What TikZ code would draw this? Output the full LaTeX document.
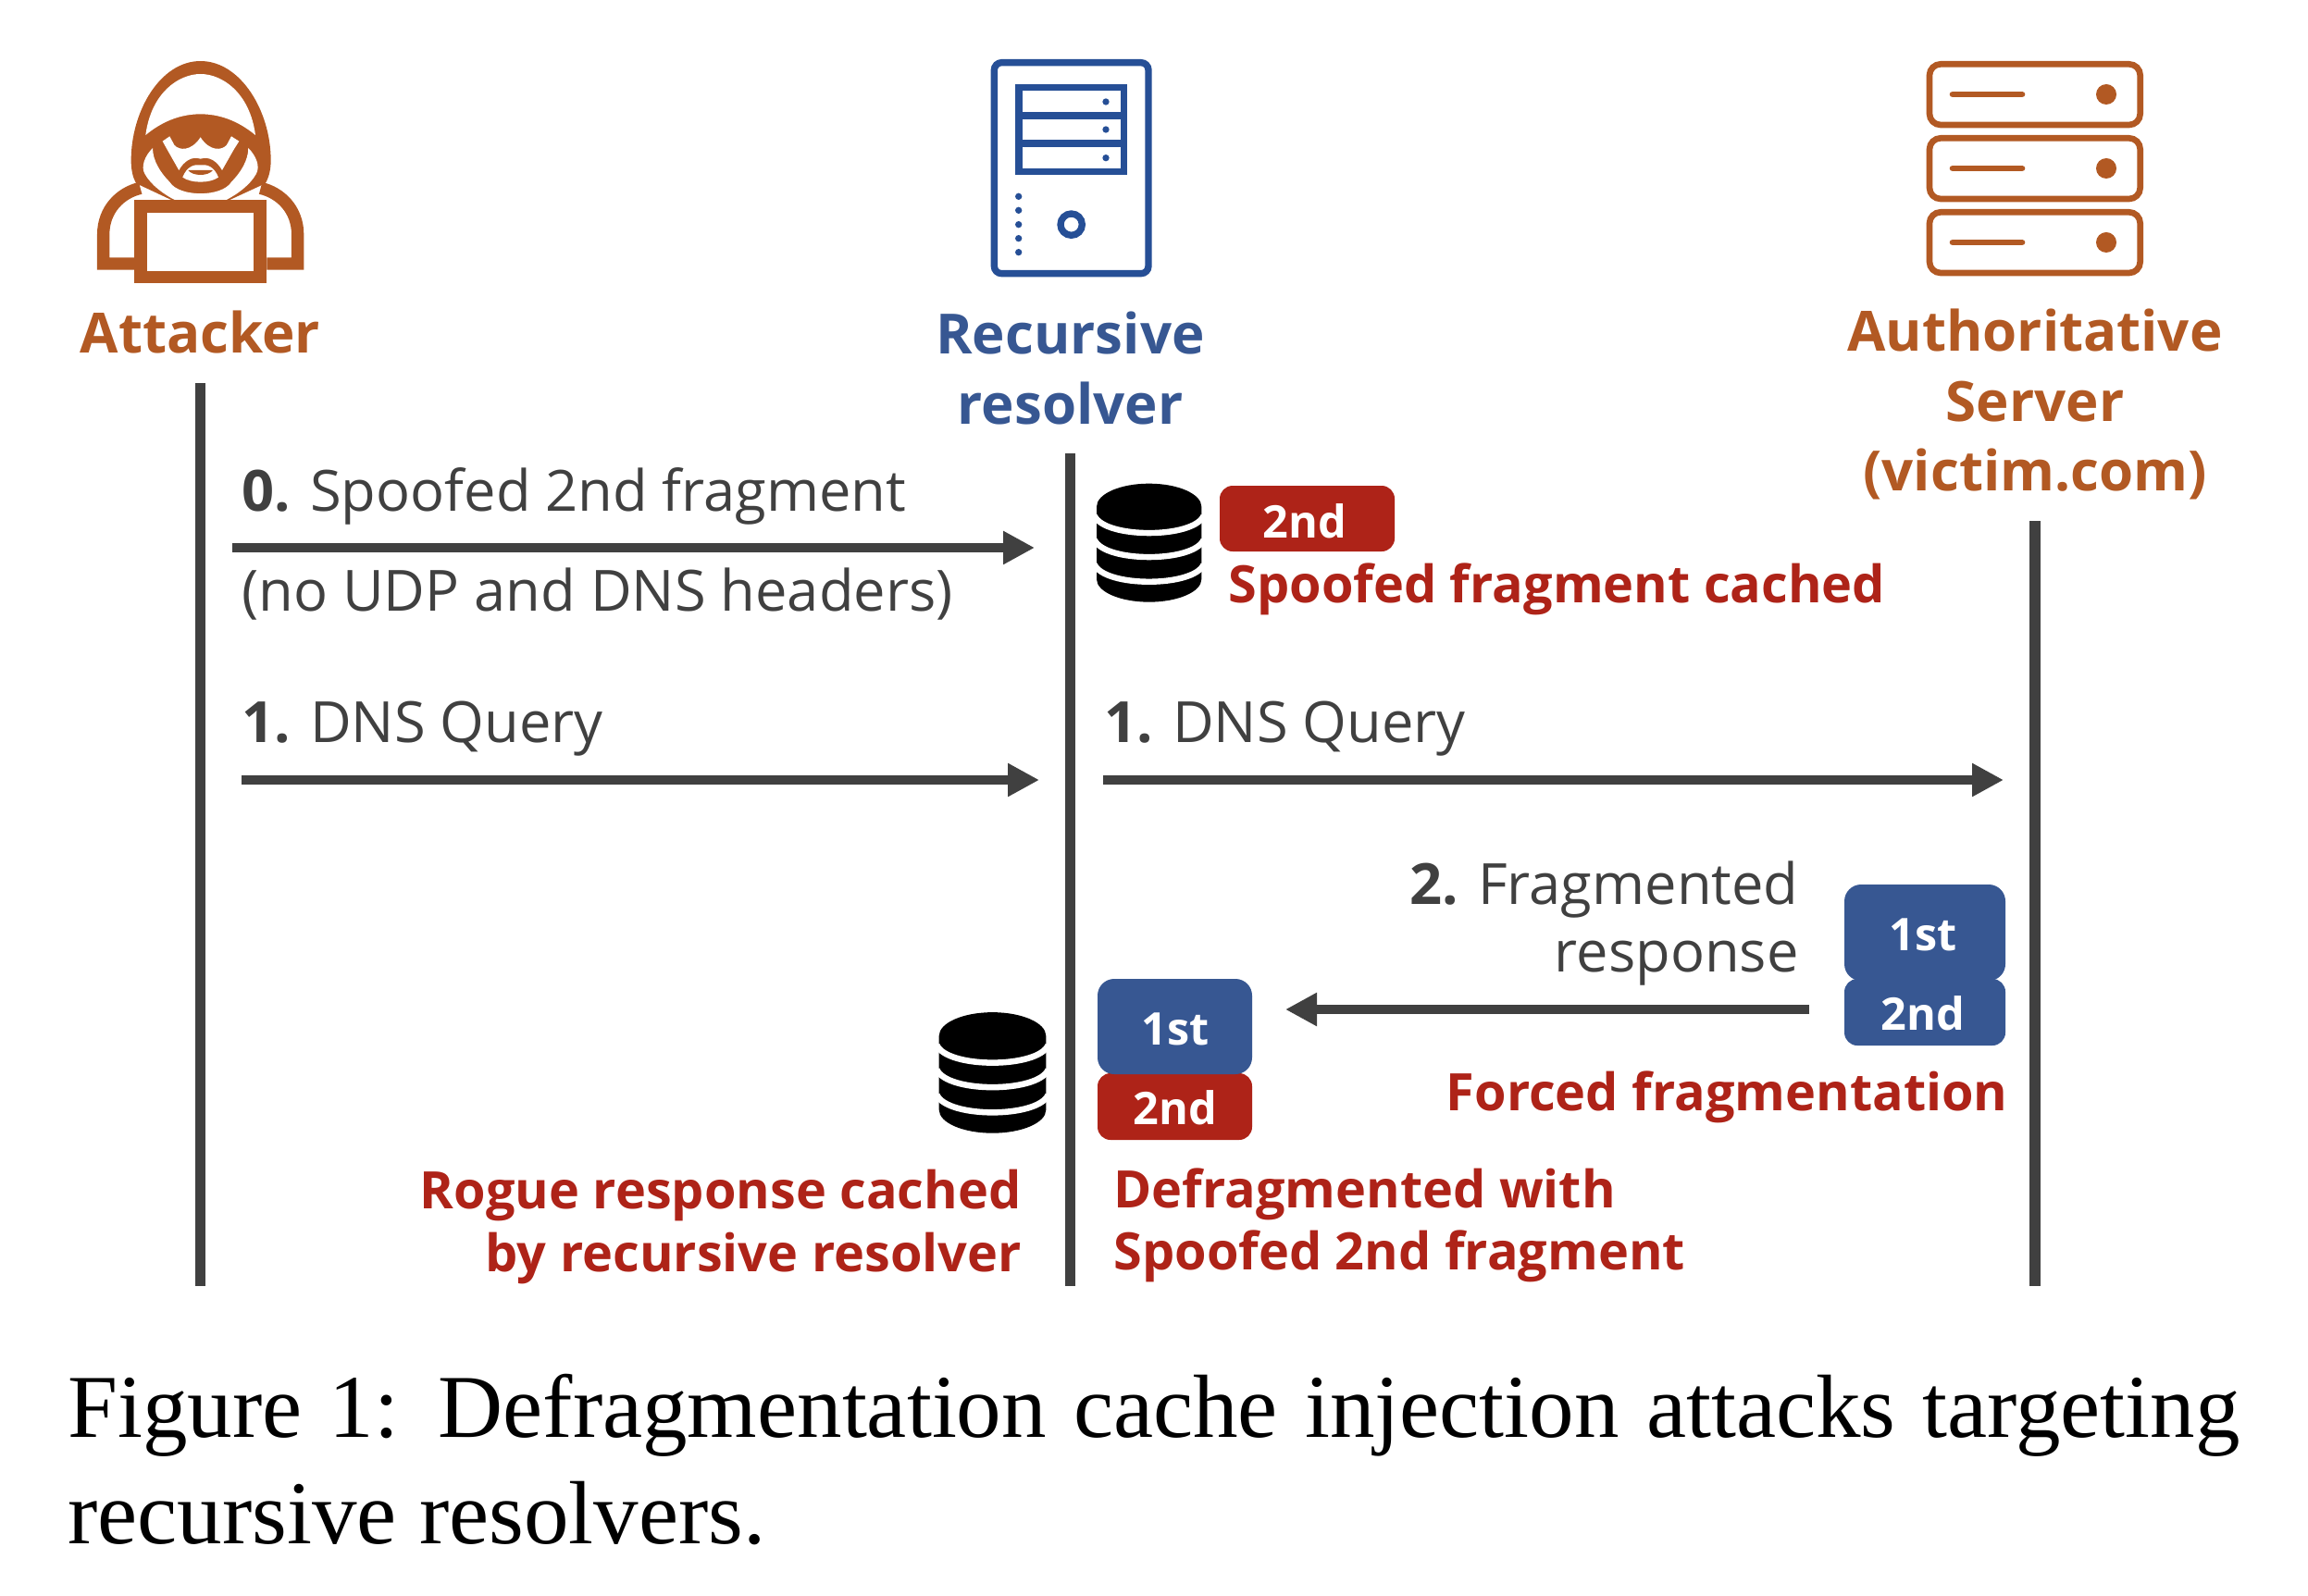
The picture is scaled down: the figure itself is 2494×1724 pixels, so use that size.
\documentclass[tikz,border=0pt]{standalone}
\usepackage{fontspec}
\setmainfont{Open Sans}
\newfontfamily\capfont{Liberation Serif}
\usetikzlibrary{arrows.meta}
\definecolor{cdark}{HTML}{404040}
\definecolor{cblue}{HTML}{375792}
\definecolor{cicon}{HTML}{264F96}
\definecolor{cred}{HTML}{AE2318}
\definecolor{corange}{HTML}{B25923}
\tikzset{
 lifeline/.style={draw=cdark,line width=5.6pt},
 msg/.style={draw=cdark,line width=4.8pt,-{Triangle[length=17pt,width=17pt]},shorten >=0pt},
 actor/.style={font=\fontsize{30}{37.7}\selectfont\bfseries,align=center,anchor=center},
 lab/.style={font=\fontsize{30.7}{36.5}\selectfont,text=cdark,inner sep=0pt},
 redlab/.style={font=\fontsize{27.9}{33.6}\selectfont\bfseries,text=cred,inner sep=0pt},
 frag/.style={font=\fontsize{24.3}{24.3}\selectfont\bfseries,text=white,inner sep=0pt,align=center},
 caption/.style={font=\capfont\fontsize{48.5}{48.5}\selectfont,text=black,inner sep=0pt,anchor=base west},
}
\newcommand{\dbicon}[3]{%
 \begin{scope}[shift={(#1,#2)},x=#3*0.5pt/3,y=-#3*0.5pt/3]
 \fill[black] (105,143) -- (105,378) arc[start angle=180,end angle=0,x radius=170,y radius=74] -- (445,143) arc[start angle=0,end angle=-180,x radius=170,y radius=75] -- cycle;
 \foreach \yy in {172,250,330}{
  \draw[white,line width=#3*3.2pt] (98,\yy) .. controls (130,{\yy+75}) and (420,{\yy+75}) .. (452,\yy);
 }
 \end{scope}}
\begin{document}
\begin{tikzpicture}[x=0.5pt,y=-0.5pt]
\useasboundingbox (0,0) rectangle (2494,1724);
% attacker icon
\begin{scope}[shift={(60,40)},x=0.5pt/3,y=-0.5pt/3]
 \fill[corange] (470,78) .. controls (340,78) and (245,240) .. (245,400) .. controls (245,430) and (250,455) .. (262,475) -- (390,535) -- (550,535) -- (680,475) .. controls (692,455) and (698,430) .. (698,400) .. controls (698,240) and (600,78) .. (470,78) -- cycle;
 \fill[white] (292,318) .. controls (310,180) and (400,120) .. (470,120) .. controls (540,120) and (630,180) .. (648,318) .. controls (590,270) and (530,250) .. (470,250) .. controls (410,250) and (350,270) .. (292,318) -- cycle;
 \fill[white] (315,360) .. controls (290,385) and (275,420) .. (290,445) .. controls (310,480) and (350,510) .. (390,530) -- (550,530) .. controls (590,510) and (630,480) .. (650,445) .. controls (665,420) and (650,385) .. (625,360) .. controls (625,400) and (600,440) .. (570,470) .. controls (540,520) and (400,520) .. (370,470) .. controls (340,440) and (315,400) .. (315,360) -- cycle;
 \fill[white] (347,338) -- (370,322) -- (385,350) .. controls (400,368) and (440,372) .. (470,325) .. controls (500,372) and (540,368) .. (555,350) -- (570,322) -- (595,338) -- (578,365) -- (540,432) .. controls (525,405) and (500,385) .. (470,395) .. controls (440,385) and (415,405) .. (400,432) -- (362,365) -- cycle;
 \fill[white] (412,455) .. controls (425,420) and (450,412) .. (470,415) .. controls (490,412) and (515,420) .. (528,455) .. controls (500,475) and (440,475) .. (412,455) -- cycle;
 \fill[corange] (430,432) -- (510,432) .. controls (495,452) and (445,452) .. (430,432) -- cycle;
 \draw[corange,line width=40/6*1pt] (255,735) -- (155,735) -- (155,640) .. controls (155,560) and (210,505) .. (275,490);
 \draw[corange,line width=40/6*1pt] (685,735) -- (785,735) -- (785,640) .. controls (785,560) and (730,505) .. (665,490);
 \fill[white] (297,570) rectangle (643,758);
 \draw[corange,line width=41/6*1pt] (276,550) rectangle (664,779);
\end{scope}
% resolver icon
\begin{scope}[shift={(1040,40)},x=0.5pt/3,y=-0.5pt/3]
 \draw[cicon,line width=22/6*1pt,rounded corners=4pt] (103,83) rectangle (603,767);
 \draw[cicon,line width=22/6*1pt] (183,163) rectangle (524,437) (183,255) -- (524,255) (183,345) -- (524,345);
 \foreach \yy in {210,300,392} \fill[cicon] (465,\yy) circle[radius=11];
 \foreach \yy in {517,562,608,653,698} \fill[cicon] (182,\yy) circle[radius=11];
 \draw[cicon,line width=22/6*1pt] (353,608) circle[radius=35];
\end{scope}
% authoritative icon
\begin{scope}[shift={(2050,40)},x=0.5pt/3,y=-0.5pt/3]
 \foreach \yy in {0,240,480}{
  \draw[corange,line width=20/6*1pt,rounded corners=6pt] (105,{88+\yy}) rectangle (788,{285+\yy});
  \draw[corange,line width=20/6*1pt,line cap=round] (180,{186+\yy}) -- (405,{186+\yy});
  \fill[corange] (678,{186+\yy}) circle[radius=33];
 }
\end{scope}
% actors
\node[actor,text=corange] (attacker) at (216.5,359) {Attacker};
\node[actor,text=cblue] (resolver) at (1156.5,398) {Recursive\\resolver};
\node[actor,text=corange] (auth) at (2199,437) {Authoritative\\Server\\(victim.com)};
% lifelines
\coordinate (a1) at (216.5,414); \coordinate (a2) at (216.5,1390);
\coordinate (b1) at (1156.5,490); \coordinate (b2) at (1156.5,1390);
\coordinate (c1) at (2199,563); \coordinate (c2) at (2199,1390);
\draw[lifeline] (a1) -- (a2);
\draw[lifeline] (b1) -- (b2);
\draw[lifeline] (c1) -- (c2);
% messages
\coordinate (m0s) at (251,592); \coordinate (m0e) at (1118,592);
\coordinate (m1s) at (261,843); \coordinate (m1e) at (1123,843);
\coordinate (m2s) at (1192,843); \coordinate (m2e) at (2165,843);
\coordinate (m3s) at (1955,1091); \coordinate (m3e) at (1389,1091);
\draw[msg] (m0s) -- (m0e);
\draw[msg] (m1s) -- (m1e);
\draw[msg] (m2s) -- (m2e);
\draw[msg] (m3s) -- (m3e);
% labels
\node[lab,anchor=base west] (l0) at (261,552) {\textbf{0.} Spoofed 2nd fragment};
\node[lab,anchor=base west] (l0b) at (261,660) {(no UDP and DNS headers)};
\node[lab,anchor=base west] (l1) at (261,802) {\textbf{1.} DNS Query};
\node[lab,anchor=base west] (l2) at (1193,802) {\textbf{1.} DNS Query};
\node[lab,anchor=east,align=right] (l3) at (1944,998) {\textbf{2.} Fragmented\\response};
% db icons
\dbicon{1150}{500}{1}
\dbicon{979}{1071}{1.02}
% fragments
\path[fill=cred,rounded corners=7pt] (1318,525) rectangle (1507,596);
\node[frag] (f1) at (1410,563) {2nd};
\path[fill=cred,rounded corners=7pt] (1186,1160) rectangle (1353,1232);
\path[fill=cblue,rounded corners=9pt] (1186,1058) rectangle (1353,1161);
\node[frag] (f2) at (1270,1112) {1st};
\node[frag] (f3) at (1270,1197) {2nd};
\path[fill=cred,rounded corners=0pt,fill opacity=0] (0,0) rectangle (0,0);
\path[fill=cblue,rounded corners=7pt] (1993,1058) rectangle (2167,1130);
\path[fill=cblue,rounded corners=9pt] (1993,956) rectangle (2167,1060);
\node[frag] (f4) at (2078,1010) {1st};
\node[frag] (f5) at (2078,1095) {2nd};
% red labels
\node[redlab,anchor=base west] (r1) at (1327,651) {Spoofed fragment cached};
\node[redlab,anchor=base east] (r2) at (2170,1200) {Forced fragmentation};
\node[redlab,anchor=east,align=right] (r3) at (1104,1326) {Rogue response cached\\by recursive resolver};
\node[redlab,anchor=west,align=left] (r4) at (1203,1324) {Defragmented with\\Spoofed 2nd fragment};
% caption
\node[caption] (cap1) at (73,1553) {\makebox[1173.5pt][s]{Figure 1: Defragmentation cache injection attacks targeting}};
\node[caption] (cap2) at (73,1668) {recursive resolvers.};
\end{tikzpicture}
\end{document}
